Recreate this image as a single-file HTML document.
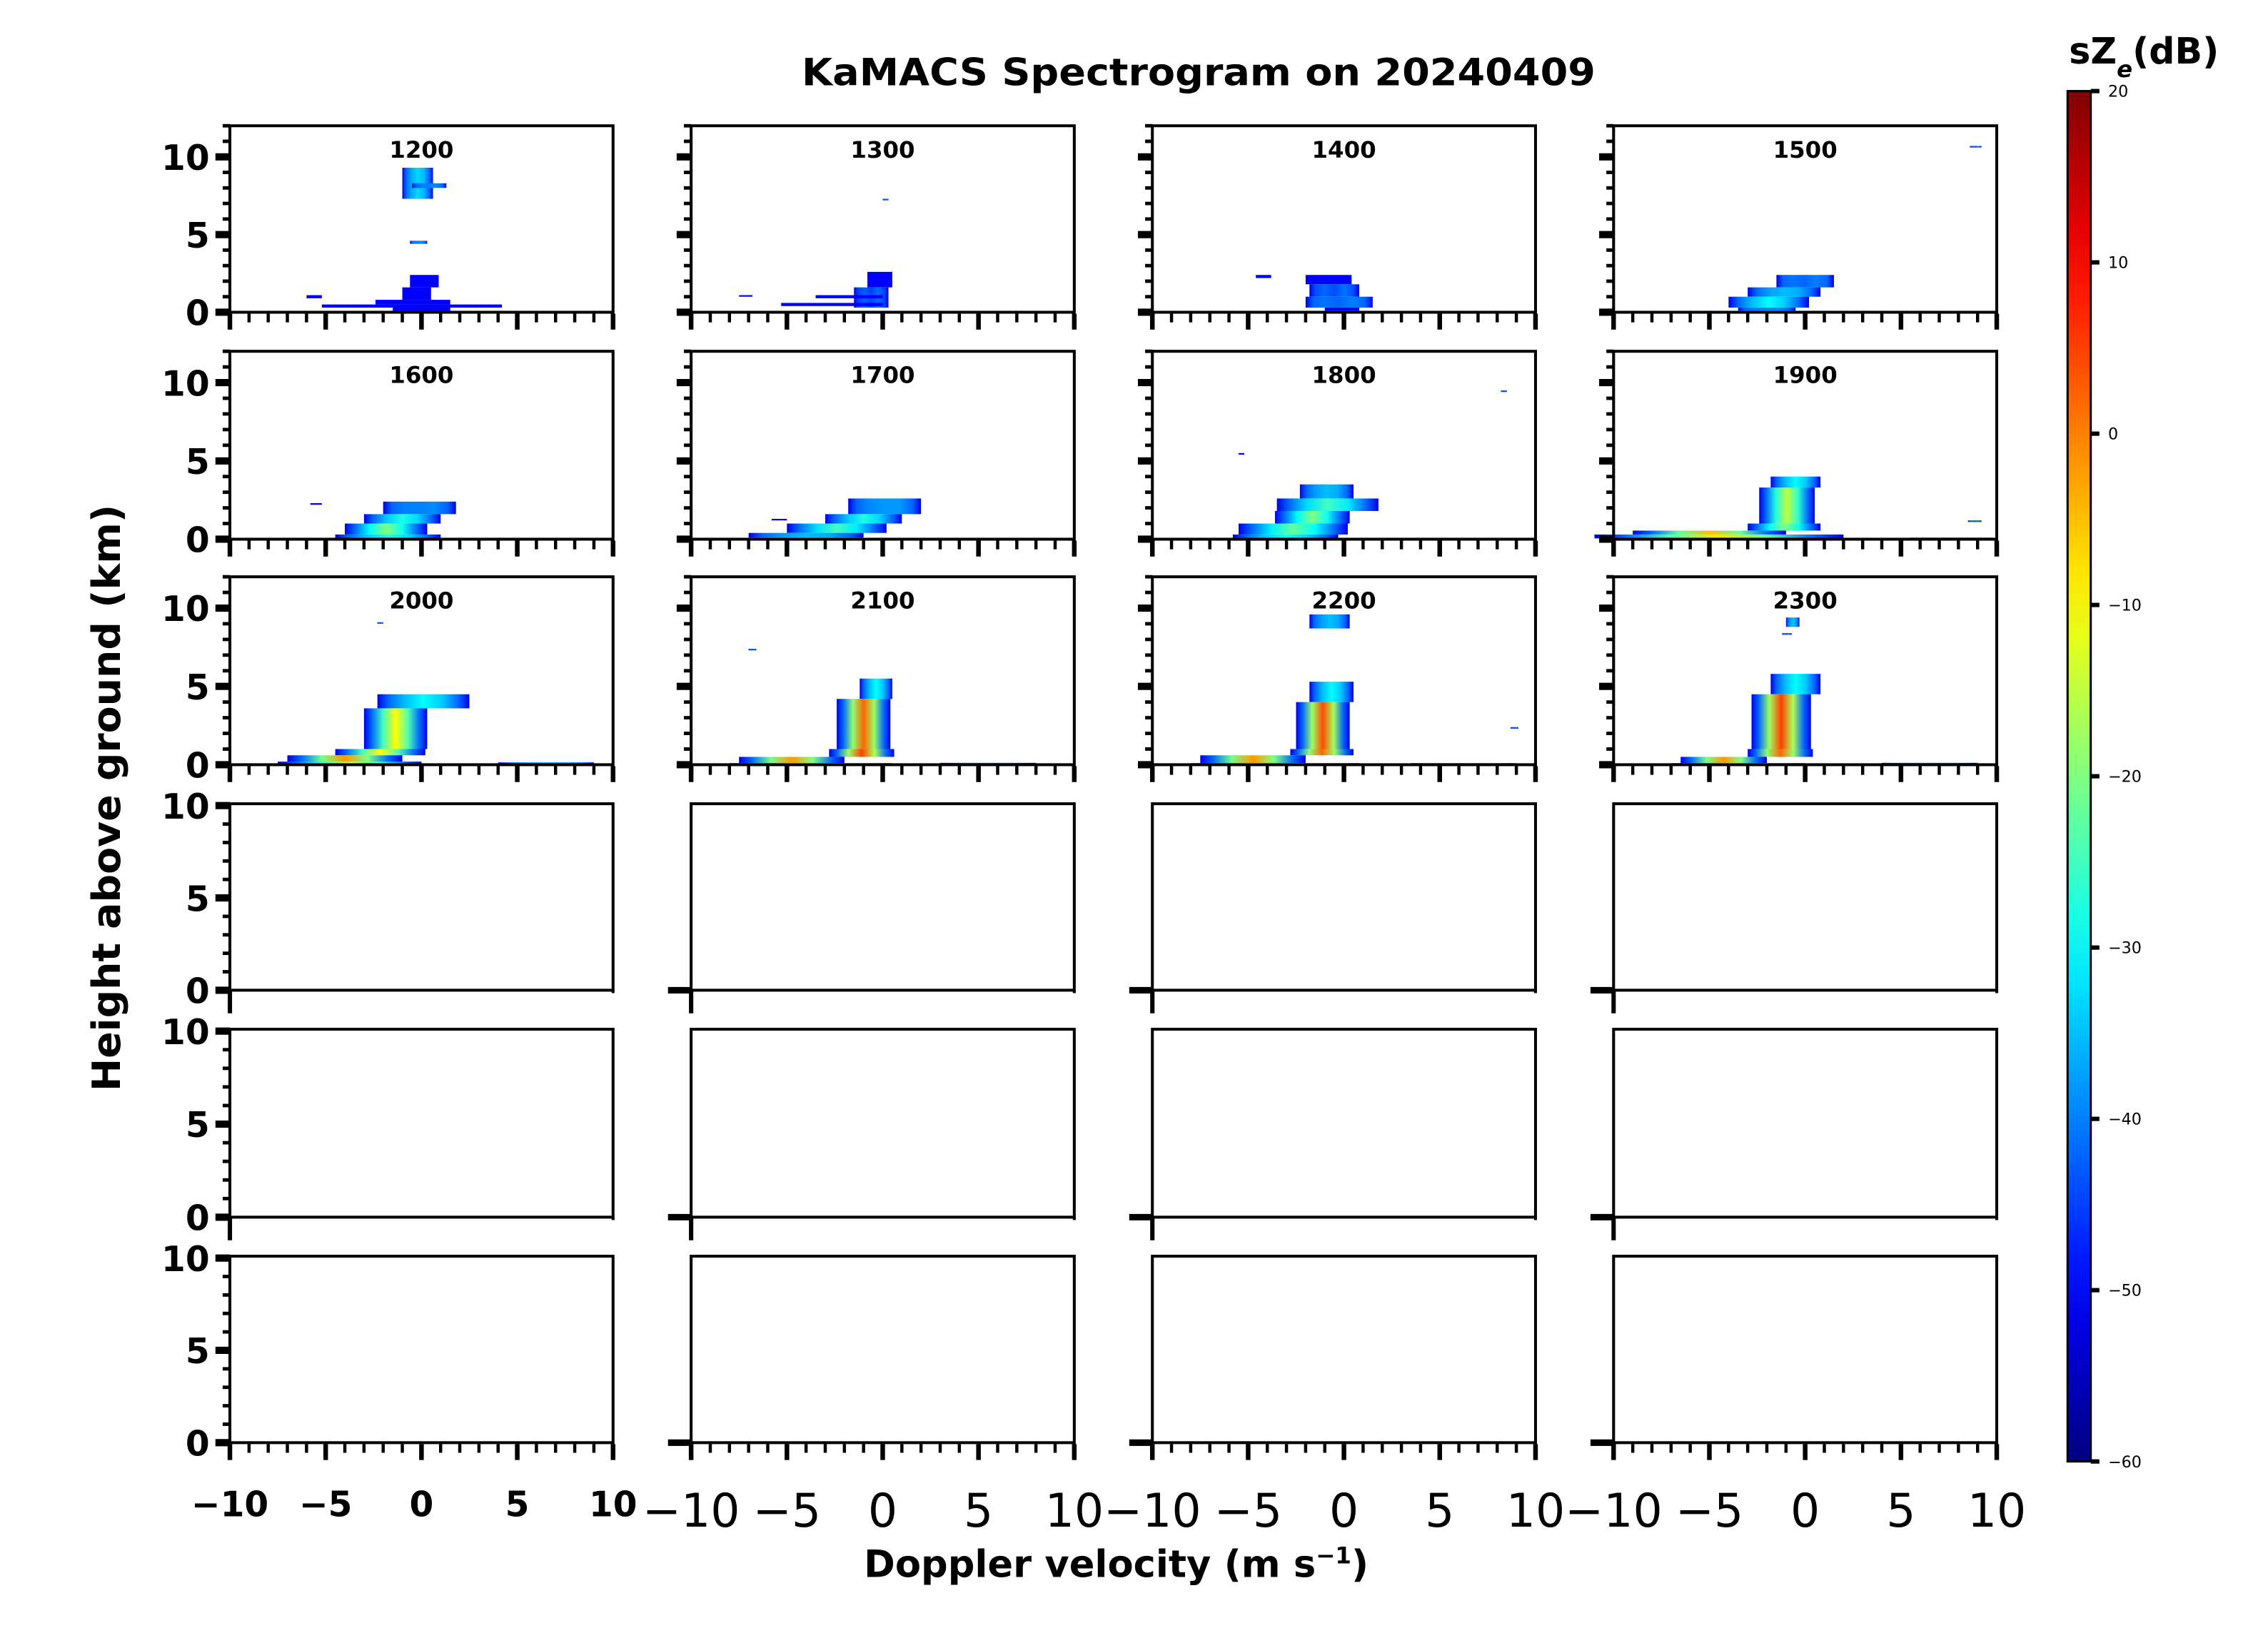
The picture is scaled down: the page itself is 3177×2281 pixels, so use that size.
<!DOCTYPE html>
<html><head><meta charset="utf-8"><style>
html,body{margin:0;padding:0;background:#fff}
svg{display:block}
text{font-family:"DejaVu Sans","Liberation Sans",sans-serif}
</style></head><body>
<svg id="fig" width="3177" height="2281" viewBox="0 0 1568.6 1126.2" xmlns="http://www.w3.org/2000/svg">
<rect width="1570" height="1130" fill="#fff"/>
<text x="829" y="59" text-anchor="middle" font-size="26" font-weight="bold" textLength="549" lengthAdjust="spacingAndGlyphs">KaMACS Spectrogram on 20240409</text>
<text x="772" y="1091" text-anchor="middle" font-size="26" font-weight="bold">Doppler velocity (m s<tspan baseline-shift="super" font-size="16">−1</tspan>)</text>
<text transform="translate(83,552) rotate(-90)" text-anchor="middle" font-size="27" font-weight="bold" textLength="406" lengthAdjust="spacingAndGlyphs">Height above ground (km)</text>
<defs id="gdefs"></defs>
<g id="panels"></g>
<g id="cbar"></g>
</svg>
<script>
const times=["1200","1300","1400","1500","1600","1700","1800","1900","2000","2100","2200","2300"];
// echo layers per panel: [hBottom, hTop, vLeft, vRight, coreDb]
const echoes=[
 [[7.3,9.3,-1.0,0.6,-33],[8.0,8.3,-0.5,1.3,-40],[4.4,4.6,-0.6,0.3,-40],[1.6,2.4,-0.6,0.9,-48],[0.8,1.6,-1.0,0.5,-50],[0.5,0.8,-2.4,1.5,-52],[0.3,0.5,-5.2,4.2,-55],[0.05,0.3,-1.5,1.5,-50],[0.9,1.1,-6.0,-5.2,-52]],
 [[1.6,2.6,-0.8,0.5,-48],[0.3,1.6,-1.5,0.3,-45],[0.9,1.1,-3.5,0.0,-52],[0.4,0.6,-5.3,0.0,-52],[1.0,1.1,-7.5,-6.8,-52],[7.2,7.3,0.0,0.3,-45]],
 [[1.8,2.4,-2.0,0.4,-50],[1.0,1.8,-1.8,0.8,-44],[0.3,1.0,-2.0,1.5,-42],[0.1,0.3,-1.0,0.8,-48],[2.2,2.4,-4.6,-3.8,-52]],
 [[1.6,2.4,-1.5,1.5,-42],[1.0,1.6,-3.0,0.8,-35],[0.3,1.0,-4.0,0.2,-30],[0.1,0.3,-3.5,-0.5,-40],[10.6,10.7,8.6,9.2,-45]],
 [[1.6,2.4,-2.0,1.8,-40],[1.0,1.6,-3.0,1.0,-28],[0.3,1.0,-4.0,0.3,-20],[0.05,0.3,-4.5,1.0,-28],[2.2,2.3,-5.8,-5.2,-50]],
 [[1.6,2.6,-1.8,2.0,-38],[1.0,1.6,-3.0,1.0,-28],[0.4,1.0,-5.0,0.2,-25],[0.1,0.4,-7.0,-1.0,-35],[1.2,1.3,-5.8,-5.0,-50]],
 [[2.6,3.5,-2.3,0.5,-35],[1.8,2.6,-3.5,1.8,-25],[1.0,1.8,-3.6,0.3,-20],[0.3,1.0,-5.5,0.2,-22],[0.05,0.3,-5.8,-0.3,-28],[5.4,5.5,-5.5,-5.2,-50],[9.4,9.5,8.2,8.5,-45]],
 [[3.3,4.0,-1.8,0.8,-30],[1.0,3.3,-2.4,0.5,-15],[0.55,1.0,-3.0,0.8,-20],[0.3,0.55,-9.0,-1.0,-5],[0.05,0.3,-11.0,2.0,-8],[0.0,0.1,5.5,9.8,-45],[1.1,1.2,8.5,9.2,-45]],
 [[3.6,4.5,-2.3,2.5,-30],[1.0,3.6,-3.0,0.3,-10],[0.6,1.0,-4.5,0.2,-10],[0.2,0.6,-7.0,-1.0,-2],[0.0,0.2,-7.5,0.0,-15],[0.0,0.15,4.0,9.0,-38],[9.0,9.1,-2.3,-2.0,-45]],
 [[4.2,5.5,-1.2,0.5,-30],[1.0,4.2,-2.4,0.4,2],[0.5,1.0,-2.8,0.6,5],[0.1,0.5,-7.5,-2.0,-2],[0.0,0.1,-8.0,0.5,-15],[0.0,0.12,3.0,8.0,-38],[7.3,7.4,-7.0,-6.6,-45]],
 [[4.0,5.3,-1.8,0.5,-30],[1.0,4.0,-2.5,0.3,4],[0.6,1.0,-2.8,0.5,2],[0.1,0.6,-7.5,-2.0,-2],[0.0,0.1,-8.0,0.8,-15],[0.0,0.1,3.5,9.0,-38],[8.7,9.6,-1.8,0.3,-35],[2.3,2.4,8.7,9.1,-45]],
 [[4.5,5.8,-1.8,0.8,-30],[1.0,4.5,-2.8,0.3,5],[0.5,1.0,-3.0,0.4,2],[0.1,0.5,-6.5,-2.0,-2],[0.0,0.1,-7.0,0.0,-15],[0.0,0.12,4.0,9.0,-38],[8.8,9.4,-1.0,-0.3,-35],[8.3,8.4,-1.2,-0.7,-45]]
];
const cbTicks=[20,10,0,-10,-20,-30,-40,-50,-60];
const xTickVals=[-10,-5,0,5,10];

const NS="http://www.w3.org/2000/svg";
function mk(tag,attrs,parent){const e=document.createElementNS(NS,tag);for(const k in attrs)e.setAttribute(k,attrs[k]);parent.appendChild(e);return e;}
function jet(db){let t=(db+60)/80;t=Math.max(0,Math.min(1,t));const c=x=>Math.round(255*Math.max(0,Math.min(1,1.5-Math.abs(4*t-x))));return `rgb(${c(3)},${c(2)},${c(1)})`;}
const GD=document.getElementById('gdefs');
let gid=0;
function grad(db){const id='eg'+(gid++);const lg=mk('linearGradient',{id:id,x1:0,y1:0,x2:1,y2:0},GD);
 const stops=[[0,-52],[0.12,Math.min(db,-42)],[0.3,(db-38)/2-1],[0.5,db],[0.7,(db-38)/2],[0.88,Math.min(db,-42)],[1,-52]];
 for(const [o,d] of stops)mk('stop',{offset:o,'stop-color':jet(d)},lg);return 'url(#'+id+')';}
const colX=[159,478,797,1116],W=265;
const rowY=[[87,216],[243,373],[399,529],[556,685],[712,842],[869,998]];
const P=document.getElementById('panels');
for(let r=0;r<6;r++)for(let c=0;c<4;c++){
 const x0=colX[c],[yt,yb]=rowY[r],H=yb-yt;const ymax=r<3?12:10.1;
 const g=mk('g',{},P);
 
 
 const vx=v=>x0+(v+10)/20*W, hy=h=>yb-h/ymax*H;
 if(r<3){const idx=r*4+c;
  for(const L of echoes[idx]){const [h0,h1,vl,vr,db]=L;
   const yy=hy(h1),hh=Math.max(1,hy(h0)-hy(h1));
   const fill=db>-48?grad(db):jet(-50);
   const o=mk('rect',{x:vx(vl),y:yy,width:vx(vr)-vx(vl),height:hh,fill:fill},g);
   
   
  }
  const t=mk('text',{x:x0+W/2,y:yt+22,'text-anchor':'middle','font-size':'16','font-weight':'bold'},g);t.textContent=times[idx];
  
  
 }
 const fr=mk('rect',{x:x0,y:yt,width:W,height:H,fill:'none',stroke:'#000','stroke-width':2},g);
 
 
 if(r<3||c==0){
  const nmax=r<3?12:10;
  for(let h=0;h<=nmax;h++){const major=h%5==0;const y=hy(h);
   mk('line',{x1:x0,x2:x0-(major?10:5),y1:y,y2:y,stroke:'#000','stroke-width':major?5:2.4},g);
   if(c==0&&major){const tl=mk('text',{x:x0-14,y:y+9,'text-anchor':'end','font-size':'24','font-weight':'bold'},g);tl.textContent=h;
    
    }
  }
 } else {mk('line',{x1:x0,x2:x0-16,y1:yb,y2:yb,stroke:'#000','stroke-width':4.5},g);}
 if(r<3||r==5){
  for(let v=-10;v<=10;v++){const major=v%5==0;const x=vx(v);
   mk('line',{x1:x,x2:x,y1:yb+1,y2:yb+(major?12:7),stroke:'#000','stroke-width':major?3.2:2.2},g);}
  if(r==5){for(const v of xTickVals){const tl=mk('text',{x:vx(v),y:yb+(c==0?51:58),'text-anchor':'middle','font-size':c==0?'24':'32','font-weight':c==0?'bold':'normal'},g);
    tl.textContent=v<0?'\u2212'+(-v):String(v);
    
    }}
 } else {mk('line',{x1:x0,x2:x0,y1:yb,y2:yb+16,stroke:'#000','stroke-width':3},g);
   mk('line',{x1:x0+W,x2:x0+W,y1:yb,y2:yb+2,stroke:'#000','stroke-width':2},g);}
}
const CB=document.getElementById('cbar');


const cx=1430,cw=16,ct=63,cbt=1011;
const lg=mk('linearGradient',{id:'jetg',x1:0,y1:1,x2:0,y2:0},GD);
for(let i=0;i<=20;i++){const db=-60+i*4;mk('stop',{offset:i/20,'stop-color':jet(db)},lg);}
mk('rect',{x:cx,y:ct,width:cw,height:cbt-ct,fill:'url(#jetg)',stroke:'#000','stroke-width':1.5},CB);
for(const v of cbTicks){const y=cbt-(v+60)/80*(cbt-ct);
 mk('line',{x1:cx+cw,x2:cx+cw+6,y1:y,y2:y,stroke:'#000','stroke-width':3},CB);
 const t=mk('text',{x:cx+cw+12,y:y+4,'font-size':'11'},CB);t.textContent=v<0?'\u2212'+(-v):String(v);
 
 }
const ct2=mk('text',{x:1431,y:44,'font-size':'25','font-weight':'bold'},CB);
ct2.innerHTML='sZ<tspan baseline-shift="sub" font-size="16" font-style="italic">e</tspan><tspan baseline-shift="0">(dB)</tspan>';


</script>
</body></html>
